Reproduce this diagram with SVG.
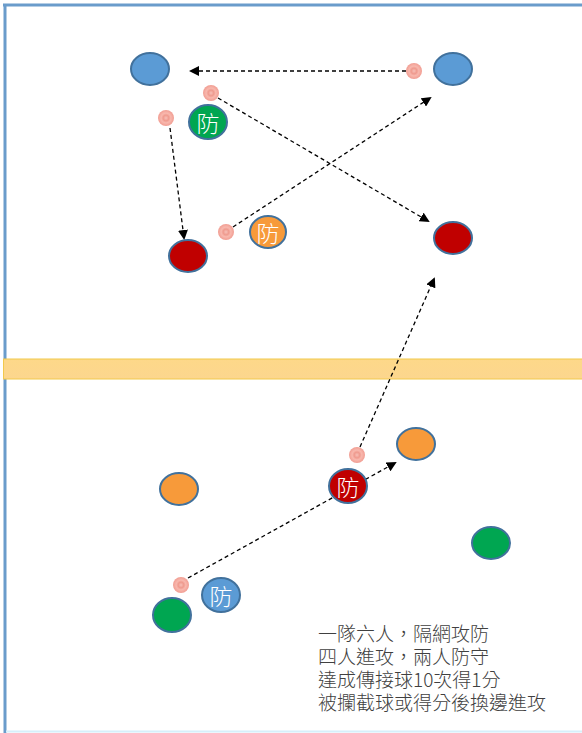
<svg xmlns="http://www.w3.org/2000/svg" width="582" height="733" viewBox="0 0 582 733">
<defs>
<marker id="ah" markerWidth="10" markerHeight="10" refX="8" refY="5" orient="auto" markerUnits="userSpaceOnUse">
<path d="M0,0 L10,5 L0,10 Z" fill="#000"/>
</marker>
<radialGradient id="ballg">
<stop offset="0" stop-color="#f7c0b8"/>
<stop offset="0.35" stop-color="#ef9a8e"/>
<stop offset="0.6" stop-color="#f8b8ae"/>
<stop offset="1" stop-color="#f19d92"/>
</radialGradient>
<linearGradient id="netg" x1="0" y1="0" x2="0" y2="1">
<stop offset="0" stop-color="#fdd889"/>
<stop offset="1" stop-color="#fcd68e"/>
</linearGradient>
</defs>
<style>
.p{stroke:#41719c;stroke-width:2}
.blue{fill:#5b9bd5}
.red{fill:#c00000}
.orange{fill:#f79a3a}
.green{fill:#00a651}
.ball{fill:url(#ballg)}
.conn{fill:none;stroke:#000;stroke-width:1.3;stroke-dasharray:4 3;marker-end:url(#ah)}
.def{font-family:"Noto Sans CJK TC","Noto Sans CJK SC",sans-serif;font-size:23px;font-weight:300;fill:#fff;text-anchor:middle;dominant-baseline:central}
.note{font-family:"Noto Sans CJK TC","Noto Sans CJK SC",sans-serif;font-size:19px;font-weight:300;fill:#404040}
</style>
<rect x="0" y="0" width="582" height="733" fill="#fff"/>
<g id="court">
<line x1="3" y1="5" x2="582" y2="5" stroke="#6a9ccb" stroke-width="3"/>
<line x1="5" y1="4" x2="5" y2="733" stroke="#6a9ccb" stroke-width="3"/>
<line x1="6" y1="731.5" x2="582" y2="731.5" stroke="#d6f0fb" stroke-width="2"/>
</g>
<g id="net">
<rect x="3.5" y="359" width="579" height="20" fill="url(#netg)" stroke="#f2c94c" stroke-width="1"/>
</g>
<g id="connectors">
<line class="conn" x1="406" y1="71" x2="191" y2="71"/>
<line class="conn" x1="170" y1="128" x2="184" y2="238"/>
<line class="conn" x1="218" y1="98" x2="428" y2="221"/>
<line class="conn" x1="233" y1="227" x2="430" y2="98"/>
<line class="conn" x1="360" y1="447" x2="434" y2="279"/>
<line class="conn" x1="188" y1="578" x2="395" y2="463"/>
</g>
<g id="top-left-blue"><ellipse class="p blue" cx="150" cy="69" rx="19" ry="16"/></g>
<g id="top-right-blue"><ellipse class="p blue" cx="453" cy="69" rx="19" ry="16"/></g>
<g id="top-green-def"><ellipse class="p green" cx="208" cy="122" rx="19" ry="17"/><text class="def" x="208" y="122">防</text></g>
<g id="top-orange-def"><ellipse class="p orange" cx="268" cy="232" rx="18" ry="16"/><text class="def" x="268" y="232">防</text></g>
<g id="top-left-red"><ellipse class="p red" cx="188" cy="256" rx="19" ry="16"/></g>
<g id="top-right-red"><ellipse class="p red" cx="453" cy="238" rx="19" ry="16"/></g>
<g id="ball-1"><circle class="ball" cx="414" cy="71" r="8"/></g>
<g id="ball-2"><circle class="ball" cx="211" cy="93" r="8"/></g>
<g id="ball-3"><circle class="ball" cx="166" cy="118" r="8"/></g>
<g id="ball-4"><circle class="ball" cx="226" cy="232" r="8"/></g>
<g id="bottom-orange-right"><ellipse class="p orange" cx="416" cy="444" rx="19" ry="16"/></g>
<g id="bottom-red-def"><ellipse class="p red" cx="348" cy="486" rx="19" ry="17"/><text class="def" x="348" y="486">防</text></g>
<g id="bottom-orange-left"><ellipse class="p orange" cx="179" cy="489" rx="19" ry="16"/></g>
<g id="bottom-green-right"><ellipse class="p green" cx="491" cy="543" rx="19" ry="16"/></g>
<g id="bottom-blue-def"><ellipse class="p blue" cx="221" cy="595" rx="19" ry="17"/><text class="def" x="221" y="595">防</text></g>
<g id="bottom-green-left"><ellipse class="p green" cx="172" cy="615" rx="19" ry="17"/></g>
<g id="ball-5"><circle class="ball" cx="357" cy="455" r="8"/></g>
<g id="ball-6"><circle class="ball" cx="181" cy="585" r="8"/></g>
<g id="rules">
<text class="note" x="318" y="641">一隊六人，隔網攻防</text>
<text class="note" x="318" y="664">四人進攻，兩人防守</text>
<text class="note" x="318" y="687">達成傳接球10次得1分</text>
<text class="note" x="318" y="710">被攔截球或得分後換邊進攻</text>
</g>
</svg>
